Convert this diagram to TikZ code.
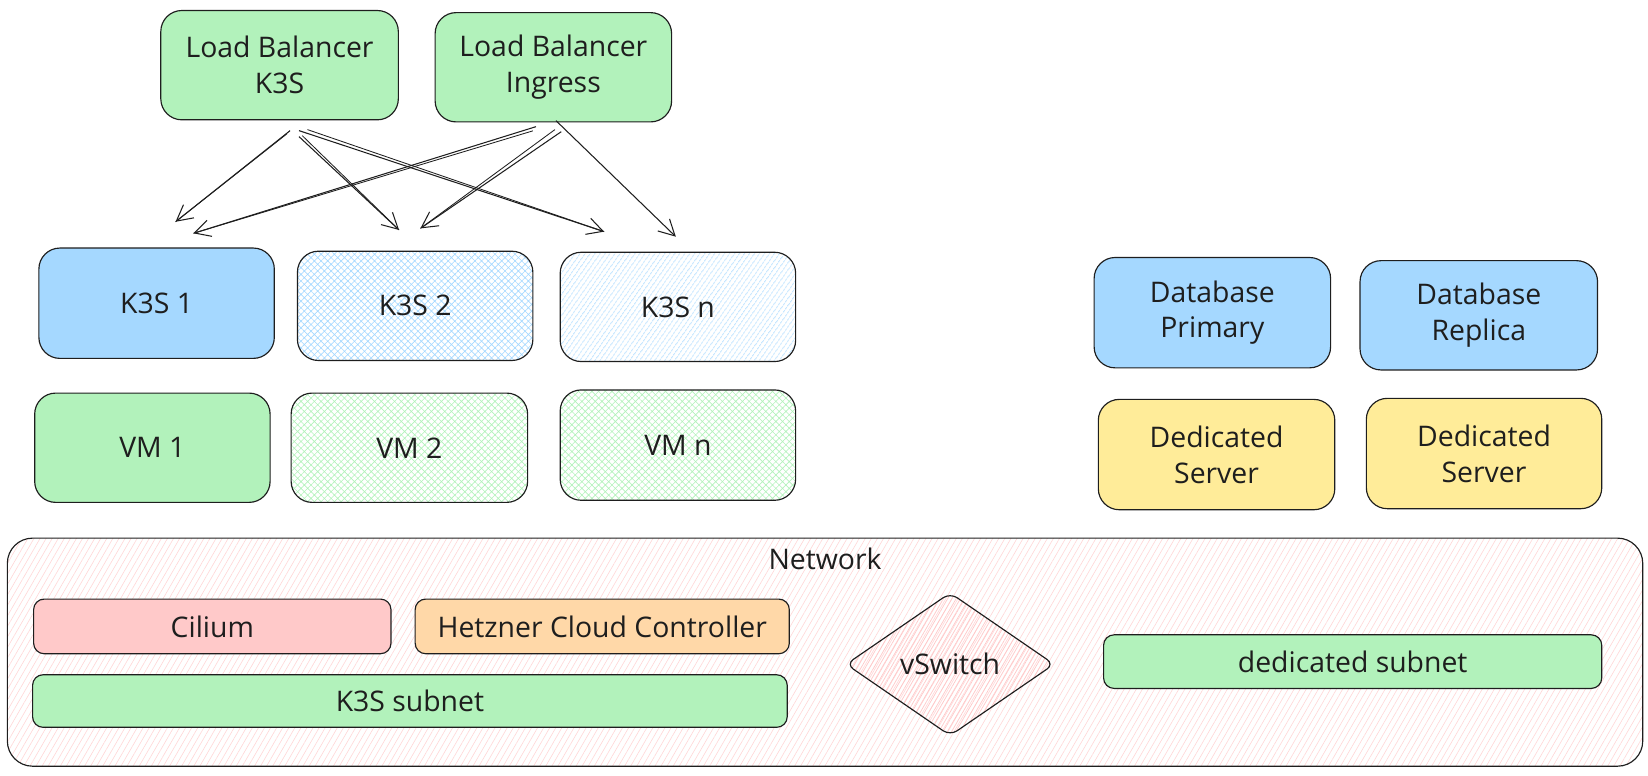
\documentclass[tikz,border=0pt]{standalone}
\usepackage{fontspec}
\setmainfont{Open Sans}
\usetikzlibrary{patterns.meta,arrows.meta,shapes.geometric,calc}
\definecolor{ink}{HTML}{1E1E1E}
\definecolor{bluef}{HTML}{A5D8FF}
\definecolor{greenf}{HTML}{B2F2BB}
\definecolor{redf}{HTML}{FFC9C9}
\definecolor{orangef}{HTML}{FFD8A8}
\definecolor{yellowf}{HTML}{FFEC99}
\begin{document}
\begin{tikzpicture}[x=1pt,y=-1pt,
  lbl/.style={font=\fontsize{27}{34}\selectfont, text=ink},
  bigbox/.style={draw=ink, line width=1.1pt, rounded corners=20pt, inner sep=0pt, align=center, lbl,
                 minimum width=224pt, minimum height=104pt},
  smallbox/.style={draw=ink, line width=1.1pt, rounded corners=10pt, inner sep=0pt, align=center, lbl},
  crossblue/.style={pattern={Hatch[angle=45,distance=4.5pt,line width=0.6pt]}, pattern color=bluef},
  lineblue/.style={pattern={Lines[angle=55,distance=4pt,line width=0.6pt]}, pattern color=bluef},
  crossgreen/.style={pattern={Hatch[angle=45,distance=4.5pt,line width=0.6pt]}, pattern color=greenf},
  netfill/.style={pattern={Lines[angle=60,distance=5pt,line width=0.6pt]}, pattern color=redf!75},
  swfill/.style={pattern={Lines[angle=60,distance=3.5pt,line width=0.7pt]}, pattern color=redf},
  arr/.style={draw=ink, line width=1pt, -{Straight Barb[length=15pt,width=16pt]}},
  sk/.style={draw=ink, line width=0.8pt}
]
\useasboundingbox (0,0) rectangle (1568,738.3);

% network container
\node[draw=ink, line width=1.1pt, rounded corners=24pt, netfill, minimum width=1556pt, minimum height=217pt, inner sep=0pt] (net) at (785,620.5) {};
\node[lbl] (netlbl) at (785,532) {Network};

% load balancers
\node[bigbox, fill=greenf, minimum width=226pt] (lbk) at (266,62) {Load Balancer\\K3S};
\node[bigbox, fill=greenf, minimum width=225pt] (lbi) at (526.5,64) {Load Balancer\\Ingress};

% k3s nodes
\node[bigbox, fill=bluef, minimum height=105pt] (k1) at (149,288.5) {K3S 1};
\node[bigbox, crossblue] (k2) at (395,291) {K3S 2};
\node[bigbox, lineblue] (kn) at (645,292) {K3S n};

% vms
\node[bigbox, fill=greenf] (vm1) at (145,426) {VM 1};
\node[bigbox, crossgreen, minimum width=225pt] (vm2) at (389.5,426) {VM 2};
\node[bigbox, crossgreen, minimum height=105pt] (vmn) at (645,423.5) {VM n};

% databases and dedicated servers
\node[bigbox, fill=bluef, minimum width=225pt, minimum height=105pt] (dbp) at (1153.5,297.5) {Database\\Primary};
\node[bigbox, fill=bluef, minimum width=226pt] (dbr) at (1407,300) {Database\\Replica};
\node[bigbox, fill=yellowf, minimum width=225pt, minimum height=105pt] (ds1) at (1157.5,432.5) {Dedicated\\Server};
\node[bigbox, fill=yellowf, minimum height=105pt] (ds2) at (1412,431.5) {Dedicated\\Server};

% network contents
\node[smallbox, fill=redf, minimum width=340pt, minimum height=52pt] (cil) at (202,596) {Cilium};
\node[smallbox, fill=orangef, minimum width=356pt, minimum height=52pt] (hcc) at (573,596) {Hetzner Cloud Controller};
\node[smallbox, fill=greenf, minimum width=718pt, minimum height=50pt] (ksub) at (390,667) {K3S subnet};
\node[smallbox, fill=greenf, minimum width=474pt, minimum height=51pt] (dsub) at (1287,629.5) {dedicated subnet};
\node[diamond, draw=ink, line width=1.1pt, rounded corners=8pt, swfill, aspect=1.46,
      minimum width=198pt, minimum height=136pt, inner sep=0pt, lbl] (vsw) at (904,632) {vSwitch};

% arrow end points
\coordinate (a1s) at (276,124.3);  \coordinate (a1e) at (167,211);
\coordinate (a2s) at (284.5,130);  \coordinate (a2e) at (379.7,218.8);
\coordinate (a3s) at (284.5,124.3);\coordinate (a3e) at (574.8,220.4);
\coordinate (a4s) at (510,120.5);  \coordinate (a4e) at (184,222);
\coordinate (a5s) at (534,125.3);  \coordinate (a5e) at (400,217.3);
\coordinate (a6s) at (529,114.8);  \coordinate (a6e) at (643,225.2);

\draw[arr] (a1s) -- (a1e);
\draw[sk] ($(a1s)+(-3,3)$) -- (a1e);
\draw[arr] (a2s) -- (a2e);
\draw[sk] ($(a2s)+(3,-1)$) -- (a2e);
\draw[arr] (a3s) -- (a3e);
\draw[sk] ($(a3s)+(8,-1)$) -- (a3e);
\draw[arr] (a4s) -- (a4e);
\draw[sk] ($(a4s)+(-3,4)$) -- (a4e);
\draw[arr] (a5s) -- (a5e);
\draw[sk] ($(a5s)+(-6,-2)$) -- (a5e);
\draw[arr] (a6s) -- (a6e);
\end{tikzpicture}
\end{document}
